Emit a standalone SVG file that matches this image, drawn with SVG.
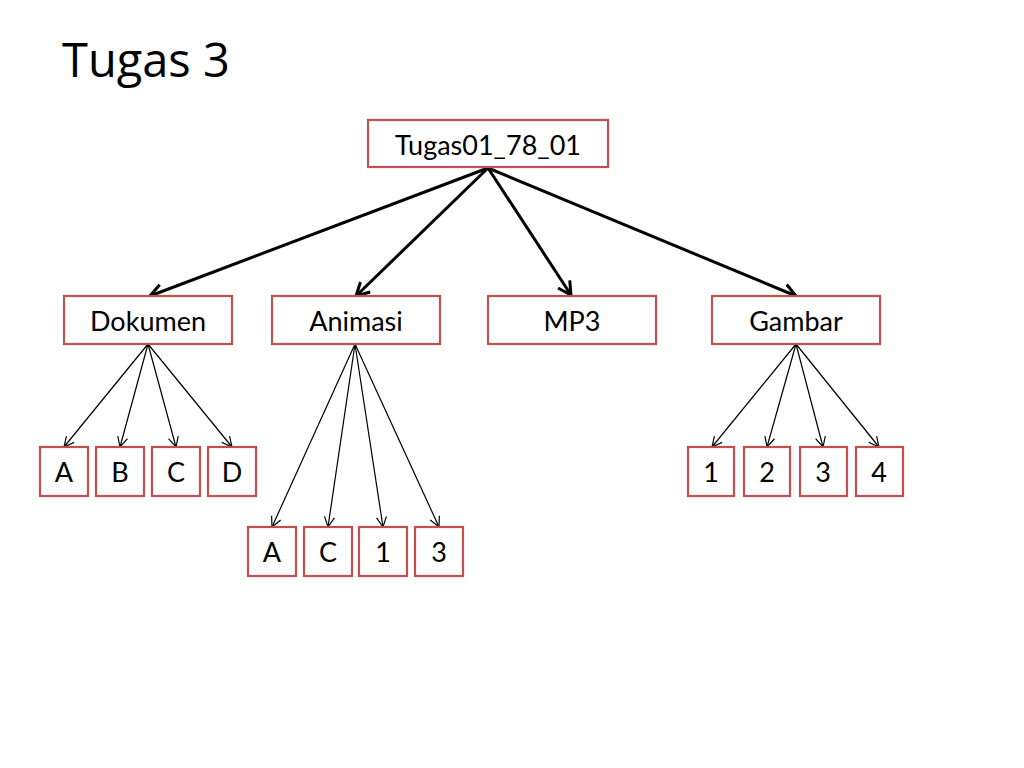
<svg xmlns="http://www.w3.org/2000/svg" width="1024" height="768" viewBox="0 0 1024 768">
<defs>
<marker id="ah" markerUnits="userSpaceOnUse" markerWidth="20" markerHeight="20" viewBox="-16 -10 20 20" refX="0" refY="0" orient="auto">
<path d="M-13,-7 L0,0 L-13,7" fill="none" stroke="#000" stroke-width="3" stroke-linejoin="miter"/>
</marker>
<marker id="as" markerUnits="userSpaceOnUse" markerWidth="16" markerHeight="16" viewBox="-12 -8 16 16" refX="0" refY="0" orient="auto">
<path d="M-10,-5 L0,0 L-10,5" fill="none" stroke="#000" stroke-width="1.2"/>
</marker>
</defs>
<style>
.box{fill:#fff;stroke:#C0504D;stroke-width:2.2}
.t{font-family:Lato,"Open Sans","Liberation Sans",sans-serif;font-size:27px;fill:#000;text-anchor:middle}
.thick{stroke:#000;stroke-width:3;fill:none;marker-end:url(#ah)}
.thin{stroke:#000;stroke-width:1.2;fill:none;marker-end:url(#as)}
</style>
<rect width="1024" height="768" fill="#fff"/>
<text x="62" y="77" font-family="'Open Sans','Liberation Sans',sans-serif" font-size="47" fill="#000">Tugas 3</text>
<g id="connectors">
<line class="thick" x1="488" y1="168" x2="150" y2="296"/>
<line class="thick" x1="488" y1="168" x2="356" y2="296"/>
<line class="thick" x1="488" y1="168" x2="571" y2="295"/>
<line class="thick" x1="488" y1="168" x2="796" y2="296"/>
<line class="thin" x1="148" y1="344" x2="64" y2="447"/>
<line class="thin" x1="148" y1="344" x2="120" y2="447"/>
<line class="thin" x1="148" y1="344" x2="176" y2="447"/>
<line class="thin" x1="148" y1="344" x2="232" y2="447"/>
<line class="thin" x1="355" y1="344" x2="272" y2="527"/>
<line class="thin" x1="355" y1="344" x2="328" y2="527"/>
<line class="thin" x1="355" y1="344" x2="383" y2="527"/>
<line class="thin" x1="355" y1="344" x2="439" y2="527"/>
<line class="thin" x1="796" y1="344" x2="712" y2="447"/>
<line class="thin" x1="796" y1="344" x2="767" y2="447"/>
<line class="thin" x1="796" y1="344" x2="823" y2="447"/>
<line class="thin" x1="796" y1="344" x2="879" y2="447"/>
</g>
<g id="root"><rect class="box" x="368" y="120" width="240" height="47"/><text class="t" x="488" y="155">Tugas01_78_01</text></g>
<g id="dokumen"><rect class="box" x="64" y="296" width="168" height="48"/><text class="t" x="148" y="331">Dokumen</text></g>
<g id="animasi"><rect class="box" x="272" y="296" width="168" height="48"/><text class="t" x="356" y="331">Animasi</text></g>
<g id="mp3"><rect class="box" x="488" y="296" width="168" height="48"/><text class="t" x="572" y="331">MP3</text></g>
<g id="gambar"><rect class="box" x="712" y="296" width="168" height="48"/><text class="t" x="796" y="331">Gambar</text></g>
<g id="dA"><rect class="box" x="40" y="447" width="48" height="49"/><text class="t" x="64" y="482">A</text></g>
<g id="dB"><rect class="box" x="96" y="447" width="48" height="49"/><text class="t" x="120" y="482">B</text></g>
<g id="dC"><rect class="box" x="152" y="447" width="48" height="49"/><text class="t" x="176" y="482">C</text></g>
<g id="dD"><rect class="box" x="208" y="447" width="48" height="49"/><text class="t" x="232" y="482">D</text></g>
<g id="aA"><rect class="box" x="248" y="527" width="48" height="49"/><text class="t" x="272" y="562">A</text></g>
<g id="aC"><rect class="box" x="304" y="527" width="48" height="49"/><text class="t" x="328" y="562">C</text></g>
<g id="a1"><rect class="box" x="359" y="527" width="48" height="49"/><text class="t" x="383" y="562">1</text></g>
<g id="a3"><rect class="box" x="415" y="527" width="48" height="49"/><text class="t" x="439" y="562">3</text></g>
<g id="g1"><rect class="box" x="688" y="447" width="46" height="49"/><text class="t" x="711" y="482">1</text></g>
<g id="g2"><rect class="box" x="744" y="447" width="46" height="49"/><text class="t" x="767" y="482">2</text></g>
<g id="g3"><rect class="box" x="800" y="447" width="47" height="49"/><text class="t" x="823" y="482">3</text></g>
<g id="g4"><rect class="box" x="856" y="447" width="47" height="49"/><text class="t" x="879" y="482">4</text></g>
</svg>
